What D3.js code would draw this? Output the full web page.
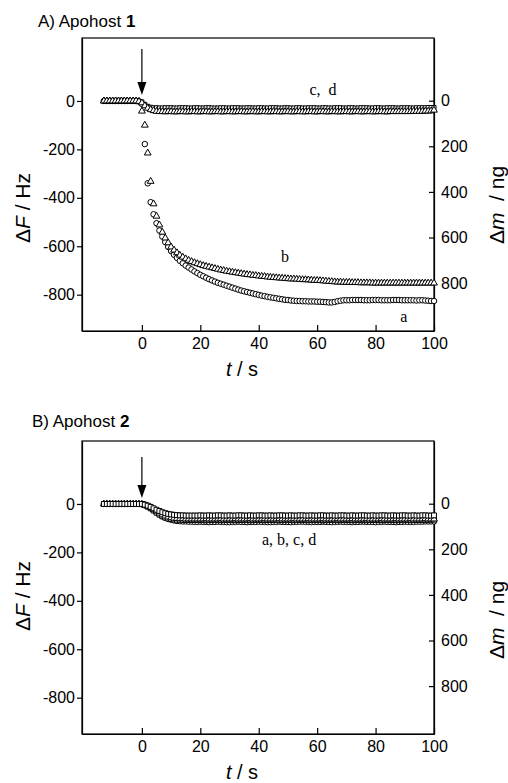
<!DOCTYPE html>
<html lang="en">
<head>
    <meta charset="UTF-8">
    <title>Apohost QCM response</title>
    <style>
        body {
            margin: 0;
            background: #fff;
        }
        svg {
            display: block;
            font-family: "Liberation Sans", Arial, sans-serif;
        }
        .axis path, .axis line {
            stroke: #000;
            stroke-width: 1.2;
        }
        .axis text {
            font-size: 16px;
            fill: #000;
        }
        .mark {
            fill: #fff;
            stroke: #000;
            stroke-width: 1;
        }
        .note {
            font-family: "Liberation Serif", "Times New Roman", serif;
            font-size: 16px;
            white-space: pre;
        }
    </style>
    <script src="https://d3js.org/d3.v7.min.js"></script>
</head>
<body>
    <svg width="508" height="783"></svg>

    <script>
        // sampling times, s
        const time = [-13, -12, -11, -10, -9, -8, -7, -6, -5, -4, -3, -2, -1,
            0, 1, 2, 3, 4, 5, 6, 7, 8, 9,
            10, 11, 12, 13, 14, 15, 16, 17, 18, 19,
            20, 21, 22, 23, 24, 25, 26, 27, 28, 29,
            30, 31, 32, 33, 34, 35, 36, 37, 38, 39,
            40, 41, 42, 43, 44, 45, 46, 47, 48, 49,
            50, 51, 52, 53, 54, 55, 56, 57, 58, 59,
            60, 61, 62, 63, 64, 65, 66, 67, 68, 69,
            70, 71, 72, 73, 74, 75, 76, 77, 78, 79,
            80, 81, 82, 83, 84, 85, 86, 87, 88, 89,
            90, 91, 92, 93, 94, 95, 96, 97, 98, 99,
            100];

        // Apohost 1, frequency change (Hz)
        const hostA_a = [0, 0, 0, 0, 0, 0, 0, 0, 0, 0, 0, 0, -2,
            -12, -178, -340, -418, -468, -505, -535, -560, -583, -603,
            -620, -635, -648, -660, -670, -680, -688, -696, -704, -711,
            -718, -724, -730, -736, -741, -746, -751, -755, -759, -763,
            -767, -771, -775, -779, -783, -786, -789, -792, -795, -798,
            -801, -804, -806, -809, -811, -813, -815, -817, -819, -821,
            -822, -824, -825, -826, -826, -827, -827, -828, -828, -828,
            -829, -829, -830, -831, -832, -832, -830, -827, -825, -823,
            -823, -823, -822, -822, -822, -822, -823, -823, -823, -822,
            -822, -822, -823, -823, -823, -823, -822, -822, -822, -823,
            -823, -823, -823, -823, -824, -823, -823, -824, -825, -826,
            -826];
        const hostA_b = [0, 0, 0, 0, 0, 0, 0, 0, 0, 0, 0, 0, -3,
            -42, -100, -215, -332, -425, -476, -512, -542, -566, -586,
            -603, -616, -627, -637, -645, -652, -658, -663, -668, -672,
            -676, -680, -683, -686, -689, -692, -695, -698, -700, -703,
            -705, -707, -709, -711, -713, -715, -717, -718, -720, -721,
            -723, -724, -725, -727, -728, -729, -730, -731, -732, -733,
            -734, -735, -735, -736, -737, -738, -738, -739, -740, -741,
            -741, -742, -743, -744, -745, -746, -747, -748, -748, -749,
            -749, -749, -750, -750, -750, -751, -751, -751, -751, -752,
            -752, -752, -752, -752, -752, -752, -752, -752, -752, -752,
            -752, -752, -752, -752, -752, -752, -752, -752, -752, -752,
            -752];
        const hostA_c = [0, 0, 0, 0, 0, 0, 0, 0, 0, 0, 0, 0, -1,
            -4, -14, -22, -26, -28, -28, -29, -29, -28, -28,
            -28, -29, -29, -28, -28, -28, -29, -29, -28, -28,
            -29, -29, -28, -28, -29, -29, -29, -28, -28, -29,
            -29, -28, -28, -28, -29, -29, -28, -28, -29, -29,
            -28, -28, -29, -29, -28, -28, -28, -29, -29, -28,
            -28, -29, -29, -28, -28, -29, -29, -28, -28, -28,
            -29, -29, -28, -28, -29, -29, -28, -28, -28, -29,
            -29, -28, -28, -29, -29, -28, -28, -28, -29, -29,
            -28, -28, -29, -29, -28, -28, -28, -29, -29, -28,
            -28, -28, -29, -29, -28, -28, -28, -28, -27, -27,
            -27];
        const hostA_d = [0, 0, 0, 0, 0, 0, 0, 0, 0, 0, 0, 0, -2,
            -8, -20, -30, -36, -40, -43, -44, -44, -45, -44,
            -44, -45, -45, -44, -44, -45, -45, -44, -44, -45,
            -45, -44, -44, -45, -45, -44, -44, -45, -45, -44,
            -44, -45, -45, -44, -44, -45, -45, -44, -44, -45,
            -45, -44, -44, -45, -45, -44, -44, -45, -45, -44,
            -44, -45, -45, -44, -44, -45, -45, -44, -44, -45,
            -45, -44, -44, -45, -45, -44, -44, -45, -45, -44,
            -44, -45, -45, -44, -44, -45, -45, -44, -44, -45,
            -45, -44, -44, -45, -45, -44, -44, -44, -44, -44,
            -44, -44, -44, -43, -43, -43, -43, -42, -42, -41,
            -38];

        // Apohost 2, frequency change (Hz)
        const hostB_a = [0, 0, 0, 0, 0, 0, 0, 0, 0, 0, 0, 0, 0,
            -1, -4, -9, -16, -25, -34, -43, -51, -57, -62,
            -65, -68, -70, -71, -72, -72, -73, -73, -74, -74,
            -73, -74, -74, -75, -74, -74, -73, -74, -74, -75,
            -75, -74, -74, -73, -74, -74, -75, -74, -74, -74,
            -73, -74, -74, -75, -75, -74, -74, -73, -74, -74,
            -74, -75, -74, -74, -73, -73, -74, -74, -75, -74,
            -74, -74, -73, -74, -74, -75, -74, -74, -73, -74,
            -74, -74, -75, -74, -74, -73, -73, -74, -74, -74,
            -75, -74, -74, -73, -74, -74, -74, -75, -74, -74,
            -73, -74, -74, -74, -73, -73, -73, -72, -72, -72,
            -72];
        const hostB_b = [0, 0, 0, 0, 0, 0, 0, 0, 0, 0, 0, 0, 0,
            0, -3, -7, -12, -18, -24, -29, -34, -38, -41,
            -43, -45, -46, -47, -47, -48, -48, -48, -48, -48,
            -47, -48, -48, -47, -48, -48, -47, -47, -48, -48,
            -47, -48, -48, -47, -47, -48, -48, -47, -48, -48,
            -47, -47, -48, -48, -47, -48, -48, -47, -47, -48,
            -48, -47, -48, -48, -47, -47, -48, -48, -47, -48,
            -48, -47, -47, -48, -48, -47, -48, -48, -47, -47,
            -48, -48, -47, -48, -48, -47, -47, -48, -48, -47,
            -48, -48, -47, -47, -48, -48, -47, -48, -48, -47,
            -47, -48, -48, -47, -48, -48, -47, -47, -48, -48,
            -47];
        const hostB_c = [0, 0, 0, 0, 0, 0, 0, 0, 0, 0, 0, 0, 0,
            -1, -4, -9, -15, -22, -30, -38, -45, -50, -54,
            -57, -59, -60, -61, -61, -62, -62, -62, -62, -62,
            -62, -62, -61, -62, -62, -62, -62, -61, -62, -62,
            -62, -62, -61, -62, -62, -62, -62, -61, -62, -62,
            -62, -62, -61, -62, -62, -62, -62, -61, -62, -62,
            -62, -62, -61, -62, -62, -62, -62, -61, -62, -62,
            -62, -62, -61, -62, -62, -62, -62, -61, -62, -62,
            -62, -62, -61, -62, -62, -62, -62, -61, -62, -62,
            -62, -62, -61, -62, -62, -62, -62, -61, -62, -62,
            -62, -62, -61, -62, -62, -62, -62, -61, -62, -62,
            -62];
        const hostB_d = [0, 0, 0, 0, 0, 0, 0, 0, 0, 0, 0, 0, 0,
            -1, -5, -11, -18, -27, -36, -44, -51, -56, -60,
            -62, -64, -65, -65, -66, -66, -66, -66, -66, -66,
            -66, -66, -67, -66, -66, -66, -66, -67, -66, -66,
            -66, -66, -67, -66, -66, -66, -66, -67, -66, -66,
            -66, -66, -67, -66, -66, -66, -66, -67, -66, -66,
            -66, -66, -67, -66, -66, -66, -66, -67, -66, -66,
            -66, -66, -67, -66, -66, -66, -66, -67, -66, -66,
            -66, -66, -67, -66, -66, -66, -66, -67, -66, -66,
            -66, -66, -67, -66, -66, -66, -66, -67, -66, -66,
            -66, -66, -67, -66, -66, -66, -66, -66, -65, -65,
            -65];

        const xTicks = [0, 20, 40, 60, 80, 100];
        const freqTicks = [0, -200, -400, -600, -800];
        const massTicks = [0, 200, 400, 600, 800];

        const svg = d3.select("svg");

        const left = 82, right = 434, plotH = 293;

        const x = d3.scaleLinear().domain([-20.5, 100]).range([left, right]);
        const plain = d => String(d);  // keep ASCII hyphen like the original

        function drawPanel(p) {
            const g = svg.append("g");
            const top = p.top, bottom = p.top + plotH;

            const yF = d3.scaleLinear().domain([-950, 260]).range([bottom, top]);
            const yM = d3.scaleLinear().domain([1010, -275]).range([bottom, top]);

            // frame
            g.append("rect")
                .attr("x", left).attr("y", top)
                .attr("width", right - left).attr("height", plotH)
                .attr("fill", "none").attr("stroke", "#000").attr("stroke-width", 1.2);

            g.append("g").attr("class", "axis")
                .attr("transform", `translate(0,${bottom})`)
                .call(d3.axisBottom(x).tickValues(xTicks).tickFormat(plain)
                    .tickSize(-6).tickPadding(7).tickSizeOuter(0));

            g.append("g").attr("class", "axis")
                .attr("transform", `translate(${left},0)`)
                .call(d3.axisLeft(yF).tickValues(freqTicks).tickFormat(plain)
                    .tickSize(5).tickPadding(2).tickSizeOuter(0));

            g.append("g").attr("class", "axis")
                .attr("transform", `translate(${right},0)`)
                .call(d3.axisRight(yM).tickValues(massTicks).tickFormat(plain)
                    .tickSize(-5).tickPadding(7).tickSizeOuter(0));

            // series markers
            p.series.forEach(s => {
                const sym = d3.symbol().type(s.type).size(s.size);
                g.append("g").selectAll("path")
                    .data(s.values.map((v, i) => [time[i], v]))
                    .join("path")
                    .attr("class", "mark")
                    .attr("transform", d => `translate(${x(d[0])},${yF(d[1])})`)
                    .attr("d", sym);
            });

            // injection arrow
            const ax = x(0), tip = yF(0) - 6;
            g.append("line")
                .attr("x1", ax).attr("x2", ax)
                .attr("y1", top + p.arrowStart).attr("y2", tip - 10)
                .attr("stroke", "#000").attr("stroke-width", 1.2);
            g.append("path")
                .attr("d", `M${ax - 4.5},${tip - 13}L${ax + 4.5},${tip - 13}L${ax},${tip}Z`)
                .attr("fill", "#000");

            // curve labels
            p.notes.forEach(n => {
                g.append("text").attr("class", "note")
                    .attr("x", x(n.t)).attr("y", yF(n.v))
                    .attr("text-anchor", "middle")
                    .text(n.text);
            });

            // titles
            const title = g.append("text")
                .attr("x", p.titleX).attr("y", p.titleY)
                .attr("font-size", 17);
            title.append("tspan").text(p.title + " ");
            title.append("tspan").attr("font-weight", "bold").text(p.host);

            const xl = g.append("text")
                .attr("x", 242).attr("y", bottom + 45)
                .attr("text-anchor", "middle")
                .attr("font-size", 20);
            xl.append("tspan").attr("font-style", "italic").text("t");
            xl.append("tspan").text(" / s");

            const yl = g.append("text")
                .attr("transform", `translate(30,${p.leftLabelY}) rotate(-90)`)
                .attr("text-anchor", "middle")
                .attr("font-size", 21);
            yl.append("tspan").text("Δ");
            yl.append("tspan").attr("font-style", "italic").text("F");
            yl.append("tspan").text(" / Hz");

            const yr = g.append("text")
                .attr("transform", `translate(504,${p.rightLabelY}) rotate(-90)`)
                .attr("text-anchor", "middle")
                .attr("font-size", 21)
                .style("white-space", "pre");
            yr.append("tspan").text("Δ");
            yr.append("tspan").attr("font-style", "italic").text("m");
            yr.append("tspan").text("  / ng");
        }

        drawPanel({
            top: 38, title: "A) Apohost", host: "1", titleX: 38, titleY: 27,
            arrowStart: 11, leftLabelY: 208, rightLabelY: 205,
            series: [
                {values: hostA_a, type: d3.symbolCircle, size: 24},
                {values: hostA_b, type: d3.symbolTriangle, size: 20},
                {values: hostA_c, type: d3.symbolSquare, size: 16},
                {values: hostA_d, type: d3.symbolTriangle, size: 20}
            ],
            notes: [
                {t: 62, v: 25, text: "c,  d"},
                {t: 49, v: -665, text: "b"},
                {t: 89.7, v: -913, text: "a"}
            ]
        });

        drawPanel({
            top: 441, title: "B) Apohost", host: "2", titleX: 32, titleY: 427,
            arrowStart: 16, leftLabelY: 596, rightLabelY: 620,
            series: [
                {values: hostB_a, type: d3.symbolCircle, size: 24},
                {values: hostB_d, type: d3.symbolSquare, size: 24},
                {values: hostB_c, type: d3.symbolTriangle, size: 20},
                {values: hostB_b, type: d3.symbolSquare, size: 24}
            ],
            notes: [
                {t: 50.4, v: -170, text: "a, b, c, d"}
            ]
        });
    </script>
</body>
</html>
